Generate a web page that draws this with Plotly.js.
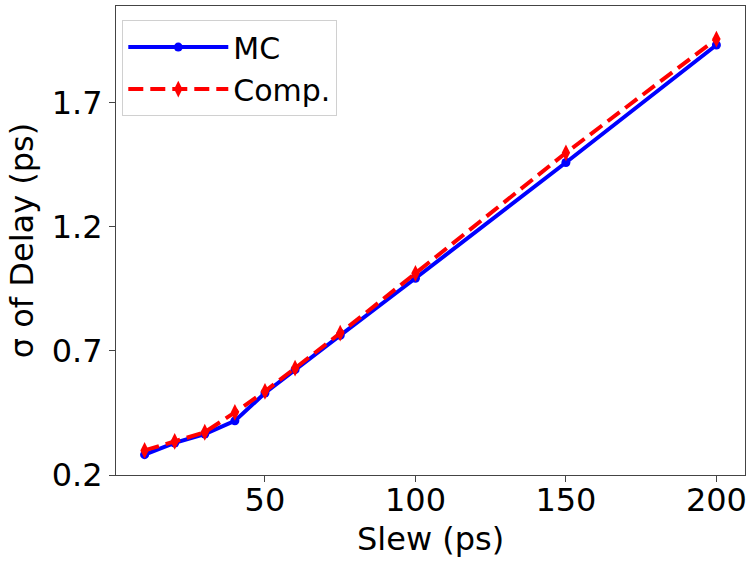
<!DOCTYPE html>
<html>
<head>
<meta charset="utf-8">
<script src="https://cdn.plot.ly/plotly-3.0.1.min.js"></script>
<style>html,body{margin:0;padding:0;background:#fff;}#chart{width:752px;height:563px;}</style>
</head>
<body>
<div id="chart"></div>
<script>
const slew = [10, 20, 30, 40, 50, 60, 75, 100, 150, 200];
const mcSigma = [0.282, 0.329, 0.365, 0.418, 0.530, 0.624, 0.762, 0.992, 1.458, 1.931];
const compSigma = [0.299, 0.335, 0.372, 0.452, 0.537, 0.630, 0.771, 1.012, 1.497, 1.955];
const xTicks = [50, 100, 150, 200];
const yTicks = [0.2, 0.7, 1.2, 1.7];
const yTickLabels = ['0.2', '0.7', '1.2', '1.7'];
const xTitle = 'Slew (ps)';
const yTitle = 'σ of Delay (ps)';

const font = 'DejaVu Sans, sans-serif';
const traces = [
  {
    x: slew, y: mcSigma, name: 'MC', type: 'scatter', mode: 'lines+markers',
    line: {color: '#0000ff', width: 4},
    marker: {symbol: 'circle', size: 9, color: '#0000ff'}
  },
  {
    x: slew, y: compSigma, name: 'Comp.', type: 'scatter', mode: 'lines+markers',
    line: {color: '#ff0000', width: 4, dash: '15px,7px'},
    marker: {symbol: 'diamond-tall', size: 12, color: '#ff0000'}
  }
];
const axisCommon = {
  showline: true, linecolor: '#444', linewidth: 1, mirror: true,
  ticks: 'outside', ticklen: 6, tickwidth: 1, tickcolor: '#444',
  showgrid: false, zeroline: false,
  tickfont: {family: font, size: 32, color: '#000'}
};
const layout = {
  width: 752, height: 563,
  margin: {l: 116, r: 7, t: 6, b: 88},
  paper_bgcolor: '#fff', plot_bgcolor: '#fff',
  showlegend: true,
  legend: {
    x: 0.01, y: 0.97, xanchor: 'left', yanchor: 'top',
    bgcolor: 'rgba(255,255,255,0.8)', bordercolor: '#d0d0d0', borderwidth: 1,
    font: {family: font, size: 30, color: '#000'},
    itemwidth: 100
  },
  xaxis: Object.assign({}, axisCommon, {
    range: [0.5, 209.5], tickmode: 'array', tickvals: xTicks,
    ticklabelstandoff: -9
  }),
  yaxis: Object.assign({}, axisCommon, {
    range: [0.2, 2.088], tickmode: 'array', tickvals: yTicks, ticktext: yTickLabels,
    title: {text: yTitle, font: {family: font, size: 32, color: '#000'}, standoff: 8}
  }),
  annotations: [{
    text: xTitle, xref: 'paper', yref: 'paper', x: 0.5, y: -0.136,
    xanchor: 'center', yanchor: 'middle', showarrow: false,
    font: {family: font, size: 32, color: '#000'}
  }]
};
Plotly.newPlot('chart', traces, layout, {displayModeBar: false, staticPlot: true});
</script>
</body>
</html>
